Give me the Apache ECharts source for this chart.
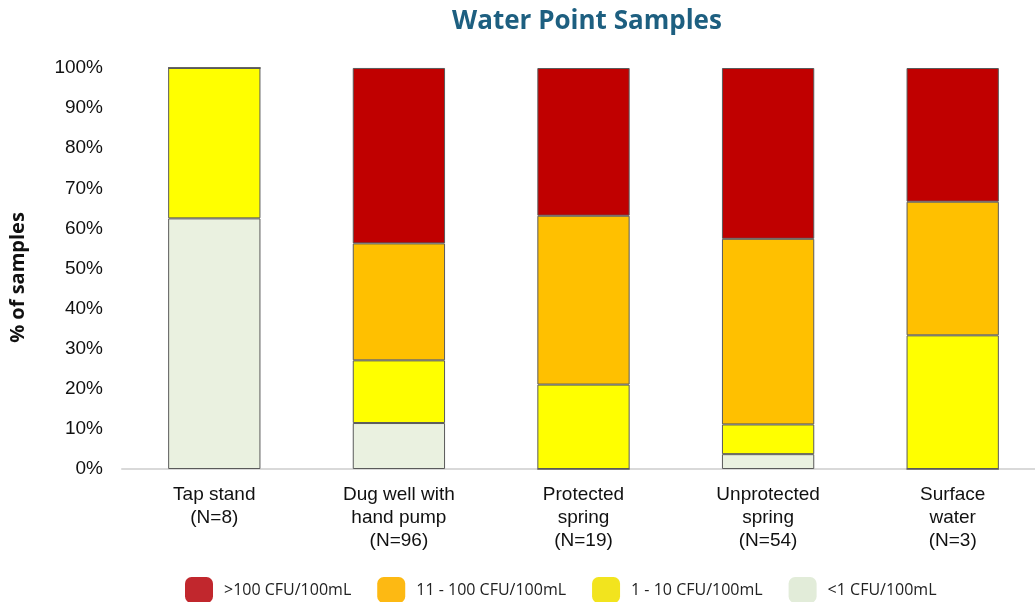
<!DOCTYPE html>
<html>
<head>
<meta charset="utf-8">
<script src="https://cdn.jsdelivr.net/npm/echarts@6/dist/echarts.min.js"></script>
<style>
  html, body { margin: 0; padding: 0; background: #fff; overflow: hidden; }
  /* plot runs slightly past the right edge of the page */
  #chart { width: 1045px; height: 602px; }
</style>
</head>
<body>
<div id="chart"></div>
<script>
// Water point categories (with sample counts)
const categories = [
  'Tap stand\n(N=8)',
  'Dug well with\nhand pump\n(N=96)',
  'Protected\nspring\n(N=19)',
  'Unprotected\nspring\n(N=54)',
  'Surface\nwater\n(N=3)'
];

// Share of samples (%) in each contamination class
const lessThan1 = [62.5, 11.46, 0, 3.70, 0];
const from1to10 = [37.5, 15.63, 21.05, 7.41, 33.33];
const from11to100 = [0, 29.17, 42.11, 46.30, 33.33];
const over100 = [0, 43.75, 36.84, 42.59, 33.34];

const seriesNames = ['<1 CFU/100mL', '1 - 10 CFU/100mL', '11 - 100 CFU/100mL', '>100 CFU/100mL'];
const barColors = ['#eaf1e0', '#ffff00', '#ffc000', '#c00000'];
const legendColors = ['#e2ecd9', '#f2e41e', '#fdb913', '#c1272d'];
const seriesValues = [lessThan1, from1to10, from11to100, over100];

const chart = echarts.init(document.getElementById('chart'));

const series = seriesValues.map((vals, i) => ({
  name: seriesNames[i],
  type: 'bar',
  stack: 'total',
  barWidth: '50%',
  data: vals,
  itemStyle: { color: barColors[i], borderColor: '#5a5a5a', borderWidth: 1 },
  emphasis: { disabled: true }
}));

chart.setOption({
  animation: false,
  title: {
    text: 'Water Point Samples',
    left: 582,
    top: 4,
    textAlign: 'center',
    textStyle: { fontFamily: 'Open Sans', fontWeight: 'bold', fontSize: 26, color: '#1d5f80' }
  },
  legend: {
    top: 572,
    left: 180,
    itemWidth: 28,
    itemHeight: 26,
    itemGap: 26,
    icon: 'roundRect',
    textStyle: { fontFamily: 'Open Sans', fontSize: 16, color: '#222', padding: [0, 0, 0, 6] },
    data: [3, 2, 1, 0].map(i => ({ name: seriesNames[i], itemStyle: { color: legendColors[i], borderWidth: 0 } }))
  },
  grid: { left: 120, top: 68, right: 0, height: 401 },
  xAxis: {
    type: 'category',
    data: categories,
    axisLine: { lineStyle: { color: '#d9d9d9', width: 2 } },
    axisTick: { show: false },
    axisLabel: {
      fontFamily: 'Liberation Sans', fontSize: 19, color: '#111',
      lineHeight: 23, margin: 14, interval: 0
    }
  },
  yAxis: {
    type: 'value',
    min: 0, max: 100, interval: 10,
    name: '% of samples',
    nameLocation: 'middle',
    nameGap: 94,
    nameTextStyle: { fontFamily: 'Open Sans', fontWeight: 'bold', fontSize: 20, color: '#111', padding: [0, 18, 0, 0] },
    splitLine: { show: false },
    axisLine: { show: false },
    axisTick: { show: false },
    axisLabel: { formatter: '{value}%', fontFamily: 'Liberation Sans', fontSize: 19, color: '#111', margin: 19 }
  },
  series: series
});
</script>
</body>
</html>
